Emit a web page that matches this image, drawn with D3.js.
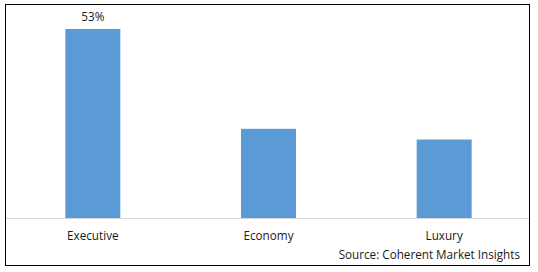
<!DOCTYPE html>
<html lang="en">
<head>
  <meta charset="UTF-8" />
  <title>Share by Segment</title>
  <script src="https://d3js.org/d3.v7.min.js"></script>
  <style>
    body { margin: 0; background: #fff; font-family: "Open Sans", sans-serif; }
    text { fill: #1a1a1a; font-size: 11.7px; }
  </style>
</head>
<body>
  <svg id="chart" width="538" height="272"></svg>

  <script>
    const categories = ["Executive", "Economy", "Luxury"];
    const shares = [53, 25, 22];
    const labelled = ["53%", null, null];
    const sourceText = "Source: Coherent Market Insights";

    const svg = d3.select("#chart");

    // frame
    svg.append("rect")
      .attr("x", 5.5).attr("y", 4.5)
      .attr("width", 524).attr("height", 261)
      .attr("fill", "#fff")
      .attr("stroke", "#000")
      .attr("stroke-width", 1);

    const x = d3.scaleBand()
      .domain(categories)
      .range([5, 532])
      .paddingInner(0.687)
      .paddingOuter(0.3435);

    const y = d3.scaleLinear()
      .domain([0, 60])
      .range([218, 4]);

    svg.selectAll("rect.bar")
      .data(categories)
      .join("rect")
      .attr("class", "bar")
      .attr("x", d => x(d))
      .attr("width", x.bandwidth())
      .attr("y", (d, i) => y(shares[i]))
      .attr("height", (d, i) => y(0) - y(shares[i]))
      .attr("fill", "#5B9BD5");

    // baseline
    svg.append("line")
      .attr("x1", 6).attr("x2", 529)
      .attr("y1", y(0) + 0.5).attr("y2", y(0) + 0.5)
      .attr("stroke", "#D9D9D9");

    svg.selectAll("text.value")
      .data(categories.filter((d, i) => labelled[i]))
      .join("text")
      .attr("class", "value")
      .attr("x", d => x(d) + x.bandwidth() / 2)
      .attr("y", d => y(shares[categories.indexOf(d)]) - 8)
      .attr("text-anchor", "middle")
      .text(d => labelled[categories.indexOf(d)]);

    svg.selectAll("text.cat")
      .data(categories)
      .join("text")
      .attr("class", "cat")
      .attr("x", d => x(d) + x.bandwidth() / 2)
      .attr("y", 240)
      .attr("text-anchor", "middle")
      .text(d => d);

    svg.append("text")
      .attr("x", 520)
      .attr("y", 259)
      .attr("text-anchor", "end")
      .text(sourceText);
  </script>
</body>
</html>
